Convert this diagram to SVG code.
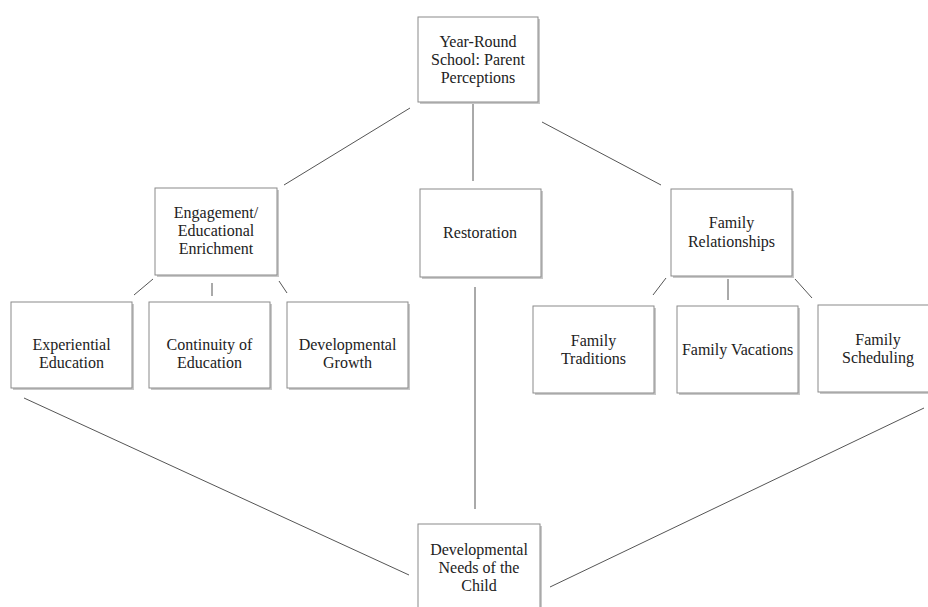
<svg xmlns="http://www.w3.org/2000/svg" width="928" height="607" viewBox="0 0 928 607">
<defs>
<style>
.box{fill:#fff;stroke:#8a8a8a;stroke-width:1}
.sh{fill:#c8c8c8}
.t{font-family:'Times New Roman','Liberation Serif',Tinos,serif;font-size:16px;fill:#222;text-anchor:middle}
.c{stroke:#555;stroke-width:1;fill:none}
</style>
</defs>
<rect width="928" height="607" fill="#fff"/>
<g id="connectors">
<line class="c" x1="410" y1="108" x2="284" y2="185"/>
<line class="c" x1="473" y1="104" x2="473" y2="181"/>
<line class="c" x1="542" y1="122" x2="661" y2="185"/>
<line class="c" x1="153" y1="279" x2="134" y2="295"/>
<line class="c" x1="212" y1="283" x2="212" y2="296"/>
<line class="c" x1="279" y1="281" x2="287" y2="293"/>
<line class="c" x1="666" y1="278" x2="653" y2="295"/>
<line class="c" x1="728" y1="279" x2="728" y2="300"/>
<line class="c" x1="795" y1="279" x2="812" y2="298"/>
<line class="c" x1="475" y1="287" x2="475" y2="509"/>
<line class="c" x1="24" y1="398" x2="409" y2="575"/>
<line class="c" x1="924" y1="408" x2="550" y2="587"/>
</g>
<g id="n-top">
<rect class="sh" x="420" y="19" width="120" height="85"/>
<rect class="box" x="418" y="17" width="120" height="85"/>
<text class="t" x="478" y="47">Year-Round</text>
<text class="t" x="478" y="65">School: Parent</text>
<text class="t" x="478" y="83">Perceptions</text>
</g>
<g id="n-engagement">
<rect class="sh" x="157" y="190" width="122" height="87"/>
<rect class="box" x="155" y="188" width="122" height="87"/>
<text class="t" x="216" y="218">Engagement/</text>
<text class="t" x="216" y="236">Educational</text>
<text class="t" x="216" y="254">Enrichment</text>
</g>
<g id="n-restoration">
<rect class="sh" x="422" y="191" width="121" height="88"/>
<rect class="box" x="420" y="189" width="121" height="88"/>
<text class="t" x="480" y="238">Restoration</text>
</g>
<g id="n-family-rel">
<rect class="sh" x="673" y="191" width="121" height="87"/>
<rect class="box" x="671" y="189" width="121" height="87"/>
<text class="t" x="731.5" y="228">Family</text>
<text class="t" x="731.5" y="247">Relationships</text>
</g>
<g id="n-experiential">
<rect class="sh" x="13" y="304" width="121" height="86"/>
<rect class="box" x="11" y="302" width="121" height="86"/>
<text class="t" x="71.5" y="350">Experiential</text>
<text class="t" x="71.5" y="368">Education</text>
</g>
<g id="n-continuity">
<rect class="sh" x="151" y="304" width="121" height="86"/>
<rect class="box" x="149" y="302" width="121" height="86"/>
<text class="t" x="209.5" y="350">Continuity of</text>
<text class="t" x="209.5" y="368">Education</text>
</g>
<g id="n-devgrowth">
<rect class="sh" x="289" y="304" width="121" height="86"/>
<rect class="box" x="287" y="302" width="121" height="86"/>
<text class="t" x="347.5" y="350">Developmental</text>
<text class="t" x="347.5" y="368">Growth</text>
</g>
<g id="n-traditions">
<rect class="sh" x="535" y="308" width="121" height="87"/>
<rect class="box" x="533" y="306" width="121" height="87"/>
<text class="t" x="593.5" y="346">Family</text>
<text class="t" x="593.5" y="364">Traditions</text>
</g>
<g id="n-vacations">
<rect class="sh" x="679" y="308" width="121" height="87"/>
<rect class="box" x="677" y="306" width="121" height="87"/>
<text class="t" x="737.5" y="355">Family Vacations</text>
</g>
<g id="n-scheduling">
<rect class="sh" x="820" y="307" width="121" height="87"/>
<rect class="box" x="818" y="305" width="121" height="87"/>
<text class="t" x="878" y="345">Family</text>
<text class="t" x="878" y="363">Scheduling</text>
</g>
<g id="n-needs">
<rect class="sh" x="420" y="526" width="122" height="90"/>
<rect class="box" x="418" y="524" width="122" height="90"/>
<text class="t" x="479" y="555">Developmental</text>
<text class="t" x="479" y="573">Needs of the</text>
<text class="t" x="479" y="591">Child</text>
</g>
</svg>
